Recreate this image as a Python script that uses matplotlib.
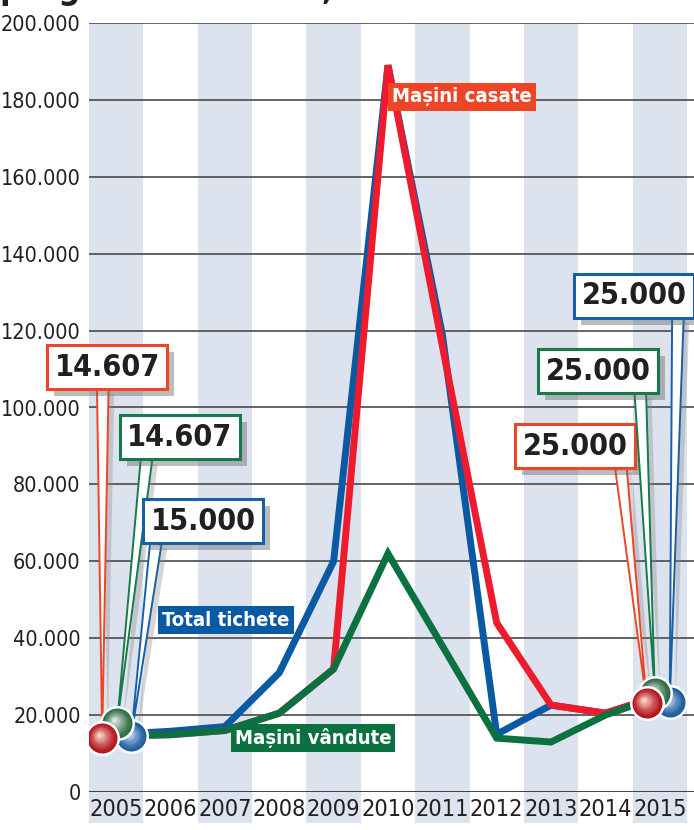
import matplotlib
matplotlib.use('agg')
import matplotlib.pyplot as plt
from matplotlib.transforms import offset_copy
from matplotlib import patheffects as pe
from matplotlib import colors as mcolors
from matplotlib import font_manager
import numpy as np

years = list(range(2005, 2016))
total_tichete = [15000, 15800, 17000, 31000, 60000, 189000, 119000, 15000, 22600, 20500, 25000]
masini_casate = [14607, 14900, 16000, 20500, 32000, 189000, 116000, 44000, 22600, 20500, 25000]
masini_vandute = [14607, 14900, 16000, 20500, 32000, 62000, 38000, 14000, 13000, 20000, 25000]
year_labels = [str(y) for y in years]
y_ticks = list(range(0, 200001, 20000))
first_values = ['14.607', '14.607', '15.000']   # casate, vandute, tichete in 2005
last_values = ['25.000', '25.000', '25.000']    # casate, vandute, tichete in 2015

BLUE = '#0a5aa3'
RED = '#ee1b2f'
GREEN = '#0b7141'
ORANGE = '#ee4526'
STRIPE = '#dde3ee'
INK = '#231f20'

# pick a condensed face if one is around
fonts = font_manager.fontManager.ttflist
names = {f.name for f in fonts}
if 'Liberation Sans Narrow' in names:
    FONT = dict(family=['Liberation Sans Narrow', 'DejaVu Sans'])
    k = 1.05
elif any(f.name == 'DejaVu Sans' and 'ondensed' in f.fname for f in fonts):
    FONT = dict(family=['DejaVu Sans'], fontstretch='condensed')
    k = 0.91
else:
    FONT = dict(family=['Liberation Sans', 'DejaVu Sans'])
    k = 0.84

W, H = 694, 830
fig = plt.figure(figsize=(W / 100, H / 100), dpi=100)
ax = fig.add_axes([89 / W, 38 / H, 605 / W, 769 / H])
ax.set_xlim(2004.5, 2015.63)
ax.set_ylim(0, 200000)


def fpx(x, y):
    # figure fraction from pixel position measured from the top-left corner
    return (x / W, 1 - y / H)


# alternating column bands, reaching down behind the year labels
for i, yr in enumerate(years):
    if i % 2 == 0:
        ax.axvspan(yr - 0.5, yr + 0.5, ymin=-0.04, ymax=1, color=STRIPE,
                   lw=0, zorder=0, clip_on=False)

ax.set_yticks(y_ticks)
ax.set_yticklabels(['0' if v == 0 else f'{v // 1000}.000' for v in y_ticks],
                   fontsize=17 * k, color=INK, **FONT)
ax.set_xticks(years)
ax.set_xticklabels(year_labels, fontsize=18.5 * k, color=INK, **FONT)
ax.tick_params(axis='both', length=0)
ax.tick_params(axis='y', pad=6)
ax.tick_params(axis='x', pad=4)
for s in ax.spines.values():
    s.set_visible(False)
ax.set_axisbelow(True)
ax.yaxis.grid(True, color='#4a4a4a', lw=1.2)
ax.axhline(0, color='#3a3a3a', lw=1.8, zorder=1)
ax.patch.set_alpha(0)

lw = 5
ax.plot(years, total_tichete, color=BLUE, lw=lw, zorder=2, solid_joinstyle='bevel')
ax.plot(years, masini_casate, color=RED, lw=lw, zorder=3, solid_joinstyle='bevel')
ax.plot(years, masini_vandute, color=GREEN, lw=lw, zorder=4, solid_joinstyle='miter')

# series name tags
tag = dict(fontsize=16 * k, fontweight='bold', color='white',
           ha='center', va='center', zorder=5, **FONT)
fig.text(*fpx(462, 97), 'Mașini casate', bbox=dict(boxstyle='square,pad=0.2', fc=ORANGE, ec='none'), **tag)
fig.text(*fpx(226, 620), 'Total tichete', bbox=dict(boxstyle='square,pad=0.2', fc=BLUE, ec='none'), **tag)
fig.text(*fpx(313, 738), 'Mașini vândute', bbox=dict(boxstyle='square,pad=0.2', fc=GREEN, ec='none'), **tag)

# cut-off headline above the chart
fig.text(0.0, 1 + 1 / H, 'programului Rabla,', fontsize=27 * k, fontweight='bold',
         color=INK, va='baseline', ha='left', **FONT)

shadow = [pe.SimplePatchShadow(offset=(5, -5), shadow_rgbFace='#6b6b6b', alpha=0.45), pe.Normal()]

# ball offsets (pixels) around each end point
first_offsets = {'casate': (-14, -2), 'vandute': (1, 13), 'tichete': (15, -2)}
last_offsets = {'casate': (-13, -7), 'vandute': (-5, 3), 'tichete': (10, -6)}
ball_colors = {'casate': ('#b5121b', '#f8d2c4'),
               'vandute': ('#2d6a43', '#dbe9df'),
               'tichete': ('#1a5b9e', '#d3e3f3')}
edge_colors = {'casate': ORANGE, 'vandute': '#177a4a', 'tichete': '#1760a8'}
series = {'casate': masini_casate, 'vandute': masini_vandute, 'tichete': total_tichete}
ball_z = {'tichete': 7, 'vandute': 8, 'casate': 9}

first_boxes = {'casate': ((107, 367), 0.46), 'vandute': ((180, 437), 0.19), 'tichete': ((203, 521), 0.06)}
last_boxes = {'casate': ((575, 446), 0.93), 'vandute': ((598, 371), 0.9), 'tichete': ((634, 296), 0.92)}


def draw_ball(x, y, dx, dy, dark, light, z):
    d = 30
    t0 = offset_copy(ax.transData, fig=fig, x=dx, y=dy, units='dots')
    ax.scatter([x], [y], s=((d + 5) * 0.72) ** 2, color='white', lw=0, zorder=z, transform=t0)
    dk = np.array(mcolors.to_rgb(dark))
    lt = np.array(mcolors.to_rgb(light))
    n = 14
    for i in range(n):
        t = i / (n - 1)
        col = dk + (lt - dk) * t ** 1.3
        tr = offset_copy(ax.transData, fig=fig, x=dx - 3 * t, y=dy + 3 * t, units='dots')
        ax.scatter([x], [y], s=((d * (1 - 0.88 * t)) * 0.72) ** 2, color=col, lw=0,
                   zorder=z + 0.01 * (i + 1), transform=tr)


for key, vals in series.items():
    for idx, offs, boxes, labels in ((0, first_offsets, first_boxes, first_values),
                                     (-1, last_offsets, last_boxes, last_values)):
        dx, dy = offs[key]
        (bx, by), rel = boxes[key]
        lab = labels[['casate', 'vandute', 'tichete'].index(key)]
        ann = ax.annotate(lab, xy=(years[idx], vals[idx]),
                          xycoords=offset_copy(ax.transData, fig=fig, x=dx, y=dy, units='dots'),
                          xytext=fpx(bx, by), textcoords='figure fraction',
                          ha='center', va='center', fontsize=24 * k,
                          fontweight='bold', color=INK, zorder=6, annotation_clip=False,
                          bbox=dict(boxstyle='square,pad=0.24', fc='white', ec=edge_colors[key], lw=2.2),
                          arrowprops=dict(arrowstyle='wedge,tail_width=0.38,shrink_factor=0.5',
                                          fc='white', ec=edge_colors[key], lw=1.4,
                                          relpos=(rel, 0), shrinkA=0, shrinkB=0), **FONT)
        ann.get_bbox_patch().set_path_effects(shadow)
        ann.arrow_patch.set_path_effects(
            [pe.SimplePatchShadow(offset=(4, -3), shadow_rgbFace='#8a8a8a', alpha=0.35), pe.Normal()])
        dark, light = ball_colors[key]
        draw_ball(years[idx], vals[idx], dx, dy, dark, light, ball_z[key])

fig.savefig('out.png', dpi=100)
